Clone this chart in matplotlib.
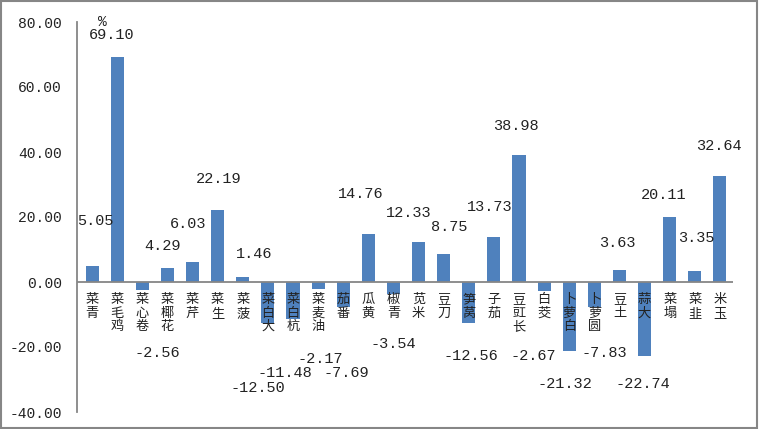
import matplotlib
matplotlib.use("Agg")
import matplotlib.pyplot as plt
from matplotlib.patches import Rectangle

categories = ["青菜", "鸡毛菜", "卷心菜", "花椰菜", "芹菜", "生菜", "菠菜", "大白菜",
              "杭白菜", "油麦菜", "番茄", "黄瓜", "青椒", "米苋", "刀豆", "莴笋",
              "茄子", "长豇豆", "茭白", "白萝卜", "圆萝卜", "土豆", "大蒜", "塌菜",
              "韭菜", "玉米"]
values = [5.05, 69.10, -2.56, 4.29, 6.03, 22.19, 1.46, -12.50, -11.48, -2.17,
          -7.69, 14.76, -3.54, 12.33, 8.75, -12.56, 13.73, 38.98, -2.67, -21.32,
          -7.83, 3.63, -22.74, 20.11, 3.35, 32.64]
# where the data labels sit (data units), they were moved by hand in the original
label_x = [0.12, 0.80, 2.59, 2.79, 3.82, 5.06, 6.45, 6.61, 7.69, 9.08, 10.12,
           10.68, 11.99, 12.59, 14.22, 15.10, 15.82, 16.89, 17.57, 18.84, 20.40,
           20.92, 21.95, 22.75, 24.06, 24.94]
label_y = [18.7, 76.1, -21.8, 11.0, 17.8, 31.6, 8.6, -32.5, -27.9, -23.6, -27.9,
           27.0, -19.0, 21.2, 16.9, -22.7, 23.0, 47.9, -22.7, -31.3, -21.8, 12.0,
           -31.3, 26.7, 13.5, 42.0]
y_ticks = [-40, -20, 0, 20, 40, 60, 80]

num_font = "Liberation Mono"
cjk_font = ["Noto Sans CJK SC", "DejaVu Sans"]
grey = "#868686"

fig = plt.figure(figsize=(7.59, 4.29), dpi=100)
ax = fig.add_axes([77 / 759, 1 - 412 / 429, (733 - 77) / 759, (412 - 22) / 429])

x = list(range(len(categories)))
ax.bar(x, values, width=0.52, color="#4F81BD", zorder=2)

ax.set_xlim(-0.6, 25.52)
ax.set_ylim(-40, 80)
ax.set_yticks(y_ticks)
ax.set_yticklabels([f"{t:.2f}" for t in y_ticks], fontfamily=num_font, fontsize=10.5)
ax.tick_params(axis="y", length=0, pad=11, colors="#222222")
ax.set_xticks([])

for side in ["top", "right", "bottom"]:
    ax.spines[side].set_visible(False)
ax.spines["left"].set_color(grey)
ax.spines["left"].set_linewidth(1.3)
ax.axhline(0, color=grey, linewidth=1.3, zorder=3)

# category names stacked vertically, read bottom to top
for i, name in enumerate(categories):
    ax.annotate("\n".join(reversed(name)), (i, 0), xytext=(0, -8),
                textcoords="offset points", ha="center", va="top",
                fontsize=9.5, family=cjk_font, color="#222222",
                linespacing=1.05, zorder=4)

for v, lx, ly in zip(values, label_x, label_y):
    ax.text(lx, ly, f"{v:.2f}", ha="center", va="center", fontsize=11,
            fontfamily=num_font, color="#222222", zorder=5)

fig.text(102 / 759, 1 - 22 / 429, "%", ha="center", va="center", fontsize=10.5,
         fontfamily=num_font, color="#222222")

fig.patches.append(Rectangle((0.001, 0.002), 0.997, 0.995, transform=fig.transFigure,
                             fill=False, edgecolor=grey, linewidth=1.5))

fig.savefig("out.png", dpi=100)
